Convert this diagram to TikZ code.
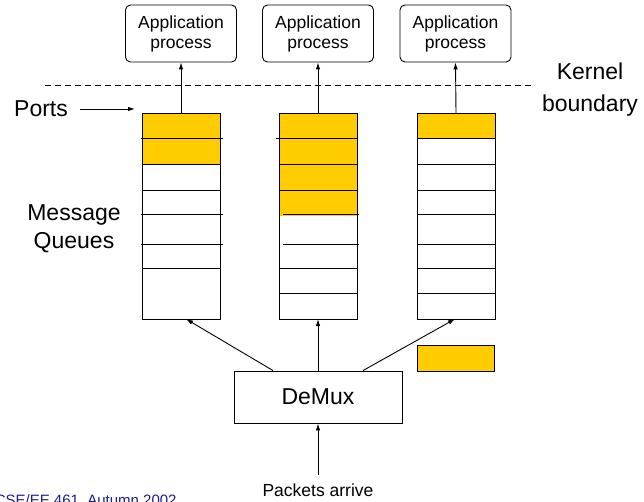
\documentclass[tikz,border=0pt]{standalone}
\usepackage{fontspec}
\setmainfont{Liberation Sans}
\usetikzlibrary{arrows.meta}
\definecolor{portyellow}{HTML}{FFCC00}
\definecolor{footblue}{RGB}{30,30,140}
\begin{document}
\begin{tikzpicture}[x=1pt,y=-1pt,line width=0.9pt,
  arr/.style={-{Latex[length=7pt,width=4.5pt]}},
  appbox/.style={draw,rounded corners=5pt,minimum width=111pt,minimum height=57pt,inner sep=0pt,align=center,font=\fontsize{17.5}{20}\selectfont},
  queuebox/.style={draw,minimum width=78pt,minimum height=206pt,inner sep=0pt,outer sep=0pt,anchor=north west},
  rowline/.style={line width=0.9pt},
  bigtext/.style={font=\fontsize{23}{28}\selectfont,align=center,inner sep=1pt}]
\useasboundingbox (0,0) rectangle (644,502);

% yellow fills
\fill[portyellow] (142,113) rectangle (220,164);
\fill[portyellow] (279,113) rectangle (357,216);
\fill[portyellow] (417,113) rectangle (495,138);

% queues
\node[queuebox] (q1) at (142,113) {};
\node[queuebox] (q2) at (279,113) {};
\node[queuebox] (q3) at (417,113) {};

% row lines queue 1
\draw[rowline] (141,138) -- (223,138);
\draw[rowline] (142,164) -- (220,164);
\draw[rowline] (142,190) -- (220,190);
\draw[rowline] (141,214) -- (223,214);
\draw[rowline] (141,244) -- (223,244);
\draw[rowline] (142,268) -- (220,268);
% row lines queue 2
\draw[rowline] (276,138) -- (357,138);
\draw[rowline] (279,164) -- (357,164);
\draw[rowline] (279,190) -- (357,190);
\draw[rowline] (283,214) -- (359,214);
\draw[rowline] (283,244) -- (359,244);
\draw[rowline] (279,268) -- (357,268);
\draw[rowline] (279,293) -- (357,293);
% row lines queue 3
\draw[rowline] (417,138) -- (495,138);
\draw[rowline] (417,164) -- (495,164);
\draw[rowline] (417,190) -- (495,190);
\draw[rowline] (417,214) -- (495,214);
\draw[rowline] (417,244) -- (495,244);
\draw[rowline] (417,268) -- (495,268);
\draw[rowline] (417,293) -- (495,293);

% application processes
\node[appbox] (a1) at (181,33.5) {Application\\process};
\node[appbox] (a2) at (318,33.5) {Application\\process};
\node[appbox] (a3) at (455.5,33.5) {Application\\process};

\draw[arr] (q1.north) -- (a1.south);
\draw[arr] (q2.north) -- (a2.south);
\draw[arr] (q3.north) -- (a3.south);

% kernel boundary
\coordinate (kb1) at (45,85);
\coordinate (kb2) at (533,85);
\draw[dash pattern=on 6pt off 4pt] (kb1) -- (kb2);
\node[bigtext,font=\fontsize{23}{32}\selectfont] (kb) at (590,90) {Kernel\\boundary};

% ports
\node[bigtext] (ports) at (41,109) {Ports};
\coordinate (portsstart) at (80,109);
\coordinate (portsend) at (135,109);
\draw[arr] (portsstart) -- (portsend);

% message queues
\node[bigtext] (mq) at (74,229) {Message\\Queues};

% demux
\node[draw,minimum width=168pt,minimum height=52pt,inner sep=0pt,font=\fontsize{23}{28}\selectfont] (dm) at (318,397) {DeMux};
\draw[arr] ([xshift=-45pt]dm.north) -- ([xshift=5pt]q1.south);
\draw[arr] (dm.north) -- (q2.south);
\draw[arr] ([xshift=45pt]dm.north) -- ([xshift=-1pt]q3.south);

% packet
\node[draw,line width=0.6pt,fill=portyellow,minimum width=77pt,minimum height=26pt,inner sep=0pt] (pkt) at (455.5,358) {};

% packets arrive
\node[font=\fontsize{17.5}{20}\selectfont,inner sep=1pt] (pa) at (318,490) {Packets arrive};
\coordinate (pastart) at (318,475);
\draw[arr] (pastart) -- (dm.south);

% footer
\node[font=\fontsize{15}{18}\selectfont,text=footblue,anchor=north east,inner sep=0pt] (foot) at (177,494) {CSE/EE 461, Autumn 2002};
\end{tikzpicture}
\end{document}
